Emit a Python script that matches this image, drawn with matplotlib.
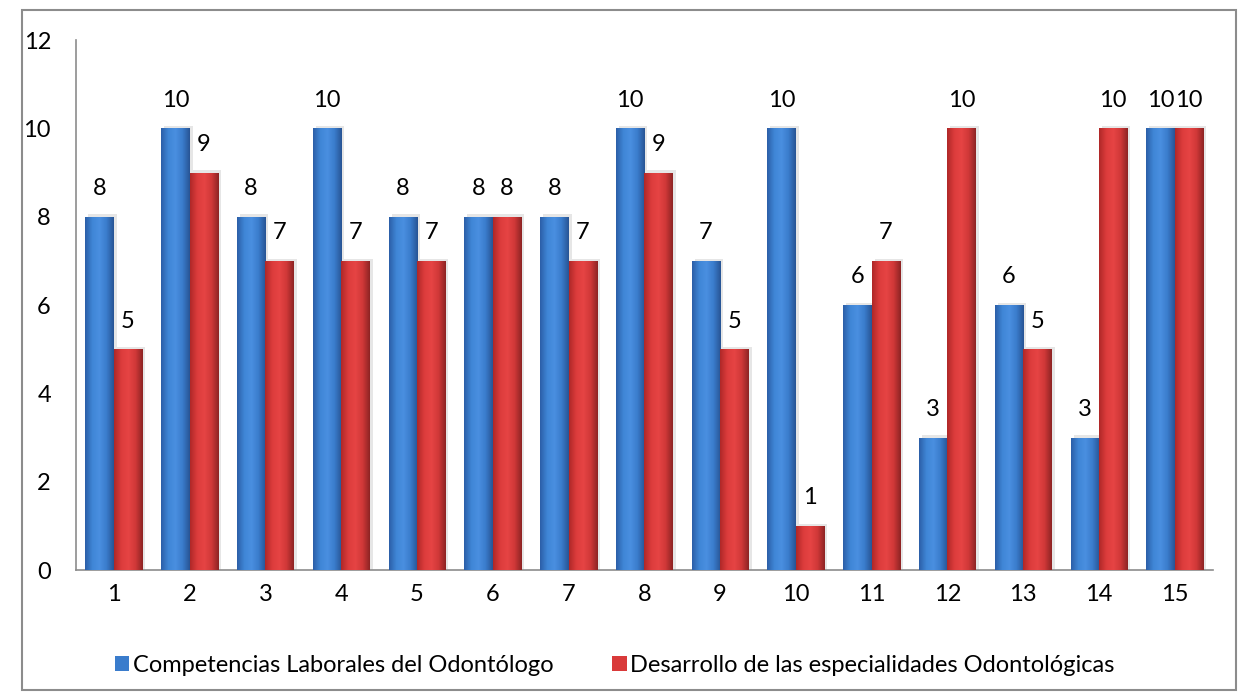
import matplotlib.pyplot as plt
import numpy as np
from matplotlib.colors import LinearSegmentedColormap
from matplotlib.patches import Rectangle

plt.rcParams['font.family'] = ['Lato', 'DejaVu Sans']

categories = [str(i) for i in range(1, 16)]
competencias = [8, 10, 8, 10, 8, 8, 8, 10, 7, 10, 6, 3, 6, 3, 10]
desarrollo = [5, 9, 7, 7, 7, 8, 7, 9, 5, 1, 7, 10, 5, 10, 10]
series_names = ['Competencias Laborales del Odontólogo',
                'Desarrollo de las especialidades Odontológicas']

blue_cmap = LinearSegmentedColormap.from_list(
    'b', ['#2c5fa8', '#3f86d6', '#4a8fe0', '#3a7ccc', '#285595'])
red_cmap = LinearSegmentedColormap.from_list(
    'r', ['#b02828', '#dc3c3c', '#e64444', '#d03838', '#8e2424'])

fig = plt.figure(figsize=(12.45, 6.96), dpi=100)
ax = fig.add_axes([0.061, 0.181, 0.913, 0.7615])

x = np.arange(len(categories))
w = 0.375

def shaded_bars(xs, vals, cmap, base):
    bars = ax.bar(xs, vals, w, color=base, zorder=2)
    grad = np.linspace(0, 1, 64).reshape(1, -1)
    for b in bars:
        x0, y0 = b.get_x(), b.get_y()
        bw, bh = b.get_width(), b.get_height()
        # soft shadow
        ax.add_patch(Rectangle((x0 + 0.04, 0), bw, bh + 0.05, color='#e6e6e6',
                               zorder=1, lw=0))
        im = ax.imshow(grad, cmap=cmap, aspect='auto', zorder=3,
                       extent=(x0, x0 + bw, y0, y0 + bh))
        im.set_clip_path(b)
    return bars

b1 = shaded_bars(x - w / 2, competencias, blue_cmap, '#3a7ccc')
b2 = shaded_bars(x + w / 2, desarrollo, red_cmap, '#d93a3a')

for xs, vals in ((x - w / 2, competencias), (x + w / 2, desarrollo)):
    for xi, v in zip(xs, vals):
        ax.text(xi, v + 0.4, str(v), ha='center', va='bottom', fontsize=17)

ax.set_xlim(-0.5, len(categories) - 0.5)
ax.set_ylim(0, 12)
ax.set_yticks(range(0, 13, 2))
ax.set_xticks(x)
ax.set_xticklabels(categories)
ax.tick_params(length=0, labelsize=17, pad=10)
ax.tick_params(axis='y', pad=18)
for s in ('top', 'right'):
    ax.spines[s].set_visible(False)
ax.spines['left'].set_color('#8c8c8c')
ax.spines['bottom'].set_color('#8c8c8c')
ax.spines['left'].set_linewidth(1.2)
ax.spines['bottom'].set_linewidth(1.2)

ax.legend([b1, b2], series_names, loc='center', bbox_to_anchor=(0.474, -0.18),
          ncol=2, frameon=False, fontsize=17, handlelength=0.6, handleheight=0.6,
          handletextpad=0.15, columnspacing=2.5)

fig.patches.append(Rectangle((0.018, 0.008), 0.975, 0.978, transform=fig.transFigure,
                             fill=False, edgecolor='#8c8c8c', lw=1.5))

fig.savefig('out.png', dpi=100)
